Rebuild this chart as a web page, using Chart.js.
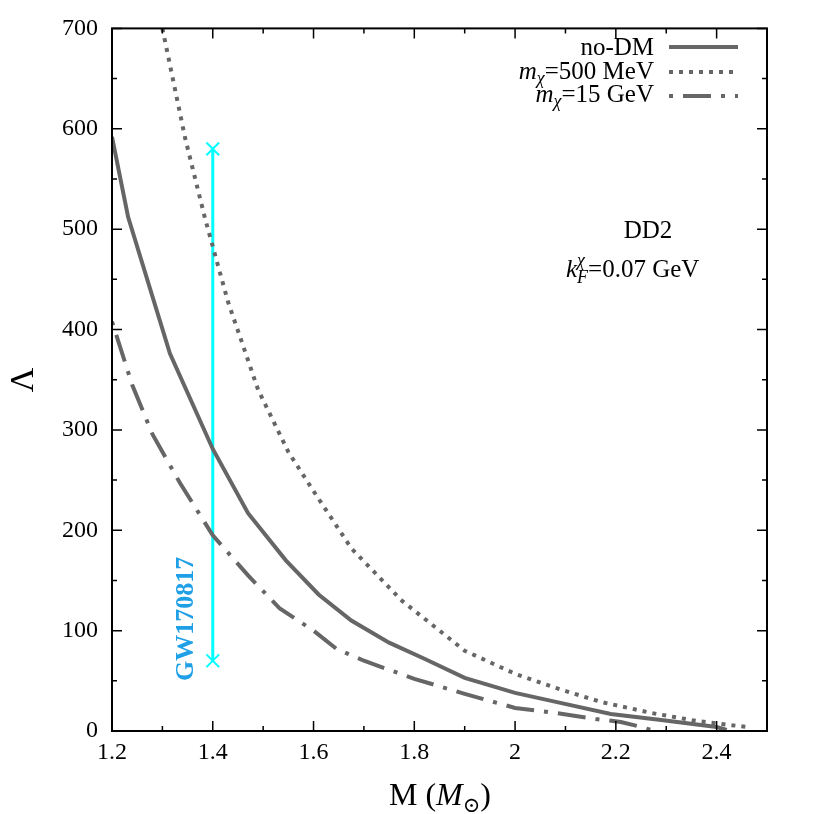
<!DOCTYPE html>
<html>
<head>
<meta charset="utf-8">
<script src="https://cdn.jsdelivr.net/npm/chart.js@4/dist/chart.umd.min.js"></script>
<style>
  html, body { margin: 0; padding: 0; background: #ffffff; }
  #chart { display: block; }
</style>
</head>
<body>
<canvas id="chart" width="814" height="814"></canvas>
<script>
// Tidal deformability vs mass, DD2 EoS with dark matter (k_F = 0.07 GeV)
const noDmMass = [1.2, 1.232, 1.315, 1.4, 1.47, 1.545, 1.61, 1.675, 1.75, 1.82, 1.9, 2.0, 2.09, 2.19, 2.29, 2.4, 2.42];
const noDmLambda = [592, 512, 376, 281, 217, 170, 136, 110, 88, 72, 53, 38, 28, 17, 11, 4, 1];

const dm500Mass = [1.3, 1.345, 1.385, 1.43, 1.49, 1.55, 1.6, 1.675, 1.775, 1.9, 2.0, 2.08, 2.17, 2.27, 2.36, 2.46];
const dm500Lambda = [700, 591, 510, 428, 340, 278, 239, 182, 130, 80, 57, 43, 29, 18, 10, 4];

const dm15Mass = [1.2, 1.24, 1.28, 1.335, 1.4, 1.47, 1.533, 1.6, 1.645, 1.7, 1.8, 1.9, 2.0, 2.08, 2.16, 2.21, 2.25, 2.27];
const dm15Lambda = [408, 345, 296, 247, 195, 155, 122, 100, 82, 70, 52, 37, 23, 18, 12, 9, 4, 1];

// GW170817 constraint at M = 1.4
const gwMass = [1.4, 1.4];
const gwLambda = [70, 580];

const xTicks = [1.2, 1.4, 1.6, 1.8, 2, 2.2, 2.4];
const yTicks = [0, 100, 200, 300, 400, 500, 600, 700];

const GREY = '#666666';
const SERIF = '"Liberation Serif", "DejaVu Serif", serif';

function pts(xs, ys) {
    return xs.map((x, i) => ({ x: x, y: ys[i] }));
}

// draw a run of text pieces, each with its own font / offset
function drawPieces(ctx, pieces, x, y, align) {
    let total = 0;
    pieces.forEach(p => {
        ctx.font = p.font;
        p.w = ctx.measureText(p.t).width;
        if (!p.noAdvance) total += p.w;
    });
    let cx = align === 'right' ? x - total : (align === 'center' ? x - total / 2 : x);
    ctx.textAlign = 'left';
    ctx.textBaseline = 'alphabetic';
    pieces.forEach(p => {
        ctx.font = p.font;
        ctx.fillText(p.t, cx, y + (p.dy || 0));
        if (!p.noAdvance) cx += p.w;
    });
}

const decorations = {
    id: 'decorations',
    afterDatasetsDraw(chart) {
        const ctx = chart.ctx;
        const a = chart.chartArea;
        const xs = chart.scales.x;
        const ys = chart.scales.y;
        ctx.save();

        // frame
        ctx.strokeStyle = '#000000';
        ctx.lineWidth = 2;
        ctx.strokeRect(a.left, a.top, a.right - a.left, a.bottom - a.top);

        // inward ticks on all four sides
        ctx.lineWidth = 1.5;
        ctx.beginPath();
        for (let i = 0; i <= 13; i++) {
            const v = 1.2 + i * 0.1;
            const px = xs.getPixelForValue(v);
            if (px > a.right - 1) continue;
            const len = i % 2 === 0 ? 10 : 5;
            ctx.moveTo(px, a.bottom); ctx.lineTo(px, a.bottom - len);
            ctx.moveTo(px, a.top); ctx.lineTo(px, a.top + len);
        }
        for (let v = 0; v <= 700; v += 50) {
            const py = ys.getPixelForValue(v);
            const len = v % 100 === 0 ? 10 : 5;
            ctx.moveTo(a.left, py); ctx.lineTo(a.left + len, py);
            ctx.moveTo(a.right, py); ctx.lineTo(a.right - len, py);
        }
        ctx.stroke();

        // legend
        const rows = [
            { y: 55, ly: 47, dash: [], pieces: [{ t: 'no-DM', font: '25px ' + SERIF }] },
            { y: 79, ly: 72, dash: [4, 6], pieces: [
                { t: 'm', font: 'italic 25px ' + SERIF },
                { t: 'χ', font: 'italic 18px ' + SERIF, dy: 5 },
                { t: '=500 MeV', font: '25px ' + SERIF }] },
            { y: 102, ly: 96, dash: [4, 10, 28, 10], pieces: [
                { t: 'm', font: 'italic 25px ' + SERIF },
                { t: 'χ', font: 'italic 18px ' + SERIF, dy: 5 },
                { t: '=15 GeV', font: '25px ' + SERIF }] }
        ];
        rows.forEach(r => {
            ctx.fillStyle = '#000000';
            drawPieces(ctx, r.pieces, 654, r.y, 'right');
            ctx.strokeStyle = GREY;
            ctx.lineWidth = 4;
            ctx.setLineDash(r.dash);
            ctx.beginPath();
            ctx.moveTo(669, r.ly);
            ctx.lineTo(738, r.ly);
            ctx.stroke();
        });
        ctx.setLineDash([]);

        // annotations
        ctx.fillStyle = '#000000';
        ctx.font = '25px ' + SERIF;
        ctx.textAlign = 'center';
        ctx.fillText('DD2', 648, 238);
        drawPieces(ctx, [
            { t: 'k', font: 'italic 25px ' + SERIF },
            { t: 'χ', font: 'italic 18px ' + SERIF, dy: -11, noAdvance: true },
            { t: 'F', font: 'italic 18px ' + SERIF, dy: 6 },
            { t: '=0.07 GeV', font: '25px ' + SERIF }
        ], 566, 277, 'left');

        // GW170817 label
        ctx.save();
        ctx.translate(193, 681);
        ctx.rotate(-Math.PI / 2);
        ctx.fillStyle = '#1E9FE6';
        ctx.font = 'bold 26px ' + SERIF;
        ctx.textAlign = 'left';
        ctx.textBaseline = 'alphabetic';
        ctx.fillText('GW170817', 0, 0);
        ctx.restore();

        // axis titles
        ctx.fillStyle = '#000000';
        drawPieces(ctx, [
            { t: 'M (', font: '32px ' + SERIF },
            { t: 'M', font: 'italic 32px ' + SERIF },
            { t: '⊙', font: '21px ' + SERIF, dy: 7 },
            { t: ')', font: '32px ' + SERIF }
        ], 440, 805, 'center');

        ctx.save();
        ctx.translate(33, 380);
        ctx.rotate(-Math.PI / 2);
        ctx.font = '34px ' + SERIF;
        ctx.textAlign = 'center';
        ctx.fillText('Λ', 0, 0);
        ctx.restore();

        ctx.restore();
    }
};

new Chart(document.getElementById('chart'), {
    type: 'scatter',
    data: {
        datasets: [
            {
                label: 'no-DM',
                data: pts(noDmMass, noDmLambda),
                showLine: true,
                borderColor: GREY,
                borderWidth: 4,
                pointRadius: 0,
                tension: 0
            },
            {
                label: 'm_χ=500 MeV',
                data: pts(dm500Mass, dm500Lambda),
                showLine: true,
                borderColor: GREY,
                borderWidth: 4,
                borderDash: [4, 6],
                pointRadius: 0,
                tension: 0
            },
            {
                label: 'm_χ=15 GeV',
                data: pts(dm15Mass, dm15Lambda),
                showLine: true,
                borderColor: GREY,
                borderWidth: 4,
                borderDash: [4, 10, 28, 10],
                pointRadius: 0,
                tension: 0
            },
            {
                label: 'GW170817',
                data: pts(gwMass, gwLambda),
                showLine: true,
                borderColor: '#00FFFF',
                borderWidth: 3,
                pointStyle: 'crossRot',
                pointRadius: 9,
                pointBorderWidth: 2,
                pointBorderColor: '#00FFFF',
                tension: 0
            }
        ]
    },
    options: {
        responsive: false,
        animation: false,
        layout: { padding: { left: 0, right: 47, top: 26, bottom: 0 } },
        plugins: {
            legend: { display: false },
            tooltip: { enabled: false }
        },
        scales: {
            x: {
                type: 'linear',
                min: 1.2,
                max: 2.5,
                afterFit: s => { s.height = 83; },
                afterBuildTicks: s => { s.ticks = xTicks.map(v => ({ value: v })); },
                grid: { display: false, drawTicks: false },
                border: { display: false },
                ticks: {
                    padding: 7,
                    color: '#000000',
                    font: { family: SERIF, size: 24 },
                    callback: v => String(v)
                }
            },
            y: {
                min: 0,
                max: 700,
                afterFit: s => { s.width = 112; },
                afterBuildTicks: s => { s.ticks = yTicks.map(v => ({ value: v })); },
                grid: { display: false, drawTicks: false },
                border: { display: false },
                ticks: {
                    padding: 14,
                    color: '#000000',
                    font: { family: SERIF, size: 24 }
                }
            }
        }
    },
    plugins: [decorations]
});
</script>
</body>
</html>
